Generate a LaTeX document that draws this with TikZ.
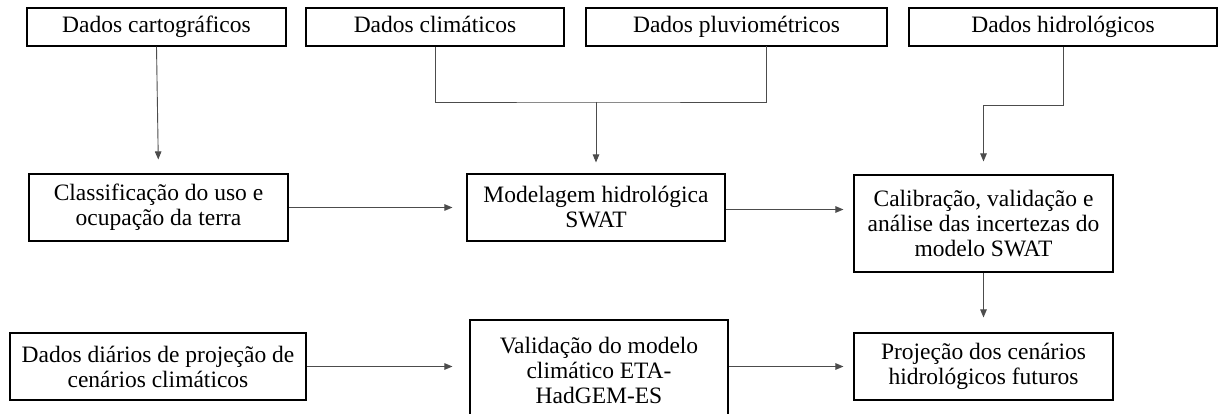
\documentclass[tikz,border=0pt]{standalone}
\usepackage{fontspec}
\setmainfont{Liberation Serif}
\usetikzlibrary{arrows.meta,calc}
\begin{document}
\begin{tikzpicture}[x=1pt,y=-1pt,
  box/.style={draw=black, line width=1.1pt, inner sep=0pt, align=center,
    font=\fontsize{23.5}{25}\selectfont},
  topbox/.style={box, minimum height=38pt, text height=16pt, text depth=5.5pt},
  conn/.style={draw=black!70, line width=0.9pt},
  arr/.style={conn, -{Triangle[length=8pt,width=6.5pt]}}]
\clip (0,0) rectangle (1218,414);
\fill[white] (0,0) rectangle (1218,414);
% top row
\node[topbox, minimum width=259pt] (cart) at (156.5,27) {Dados cartográficos};
\node[topbox, minimum width=258pt] (clim) at (435,27) {Dados climáticos};
\node[topbox, minimum width=301pt] (pluv) at (736.5,27) {Dados pluviométricos};
\node[topbox, minimum width=308pt] (hidr) at (1063,27) {Dados hidrológicos};
% middle row
\node[box, minimum width=259pt, minimum height=67pt] (class) at (158.5,207.5) {Classificação do uso e\\ocupação da terra};
\node[box, minimum width=258pt, minimum height=67pt] (model) at (596,207.5) {Modelagem hidrológica\\SWAT};
\node[box, minimum width=259pt, minimum height=97pt] (calib) at (983.5,223.5) {Calibração, validação e\\análise das incertezas do\\modelo SWAT};
% bottom row
\node[box, minimum width=296pt, minimum height=67pt] (diar) at (158,366.5) {Dados diários de projeção de\\cenários climáticos};
\node[box, minimum width=258pt, minimum height=100pt] (valid) at (599,370) {Validação do modelo\\climático ETA-\\HadGEM-ES};
\node[box, minimum width=259pt, minimum height=67pt] (proj) at (983.5,366.5) {Projeção dos cenários\\hidrológicos futuros};
% connectors
\coordinate (j1) at (596,102);
\coordinate (pluvout) at (766,46);
\draw[arr, shorten >=14pt] (cart.south) -- (class.north);
\draw[conn] (clim.south) |- (j1) -| (pluvout);
\draw[arr, shorten >=11pt] (j1) -- (model.north);
\draw[arr, shorten >=13pt] (hidr.south) -- ++(0,59) -| (calib.north);
\draw[arr, shorten >=14pt] (class.east) -- (model.west);
\draw[arr, shorten >=10pt] (model.east |- calib.west) ++(0,-14) -- ($(calib.west)+(0,-14)$);
\draw[arr, shorten >=15pt] (calib.south) -- (proj.north);
\draw[arr, shorten >=17pt] (diar.east) -- (valid.west |- diar.east);
\draw[arr, shorten >=10pt] (valid.east |- proj.west) -- (proj.west);
\end{tikzpicture}
\end{document}
